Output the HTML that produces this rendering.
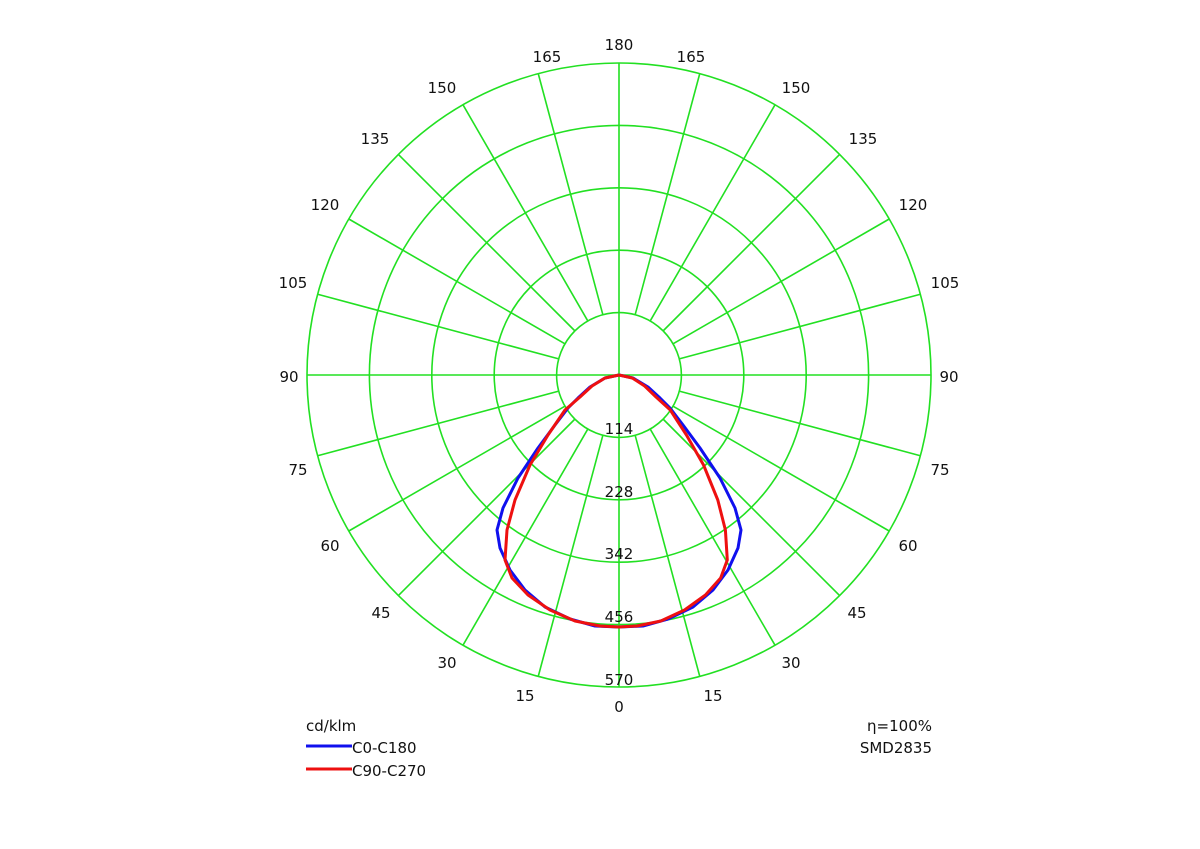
<!DOCTYPE html>
<html><head><meta charset="utf-8"><style>body{margin:0;background:#fff}svg{display:block}text{font-family:"DejaVu Sans","Liberation Sans",sans-serif;font-size:15px;fill:#111}</style></head>
<body>
<svg width="1200" height="849" viewBox="0 0 1200 849">
<g stroke="#22e022" stroke-width="1.6" fill="none" id="g"></g>
<g id="lbl" text-anchor="middle"></g>
<g fill="none" stroke-width="3" stroke-linejoin="round">
<polyline id="blue" stroke="#1010ee"/>
<polyline id="red" stroke="#ee1010"/>
</g>
<g text-anchor="middle">
<text x="619" y="434">114</text><text x="619" y="497">228</text><text x="619" y="559">342</text><text x="619" y="622">456</text><text x="619" y="685">570</text>
</g>
<text x="306" y="731">cd/klm</text>
<line x1="306" y1="746" x2="352" y2="746" stroke="#1010ee" stroke-width="3"/>
<text x="352" y="753">C0-C180</text>
<line x1="306" y1="769" x2="352" y2="769" stroke="#ee1010" stroke-width="3"/>
<text x="352" y="776">C90-C270</text>
<text x="932" y="731" text-anchor="end">η=100%</text>
<text x="932" y="753" text-anchor="end">SMD2835</text>
<script>
var cx=619,cy=375,R=312,ns="http://www.w3.org/2000/svg",g=document.getElementById('g'),L=document.getElementById('lbl');
function el(p,t,a){var e=document.createElementNS(ns,t);for(var k in a)e.setAttribute(k,a[k]);p.appendChild(e);return e;}
for(var i=1;i<=5;i++)el(g,'circle',{cx:cx,cy:cy,r:62.4*i});
for(var a=0;a<360;a+=15){var t=a*Math.PI/180,s=Math.sin(t),c=Math.cos(t);var r0=(a%90==0)?0:62.4;
el(g,'line',{x1:cx+r0*s,y1:cy+r0*c,x2:cx+R*s,y2:cy+R*c});}
var labs=[[0,619,707],[15,525,696],[30,447,663],[45,381,613],[60,330,546],[75,298,470],[90,289,377],[105,293,283],[120,325,205],[135,375,139],[150,442,88],[165,547,57],[180,619,45]];
labs.forEach(function(l){var t=el(L,'text',{x:l[1],y:l[2]+5});t.textContent=l[0];
if(l[0]!=0&&l[0]!=180){var t2=el(L,'text',{x:2*cx-l[1],y:l[2]+5});t2.textContent=l[0];}});
function mk(id,pts,rf){var all=pts.slice();for(var i=pts.length-2;i>=0;i--){var p=pts[i];all.push([cx+(cx-p[0])*rf,p[1]]);}
document.getElementById(id).setAttribute('points',all.map(p=>p.join(',')).join(' '));}
mk('blue',[[619,375],[605,378],[590,387],[578,398],[568,408],[555,425],[538,448],[518,478],[503,508],[497,530],[500,548],[510,570],[525,590],[545,607],[570,619],[595,626],[619,627]],1);
mk('red',[[619,375],[605,378],[592,386],[580,397],[565,410],[548,435],[530,465],[515,500],[507,530],[505,560],[512,578],[528,595],[550,610],[575,621],[600,626],[619,627]],0.95);
</script>
</svg>
</body></html>
